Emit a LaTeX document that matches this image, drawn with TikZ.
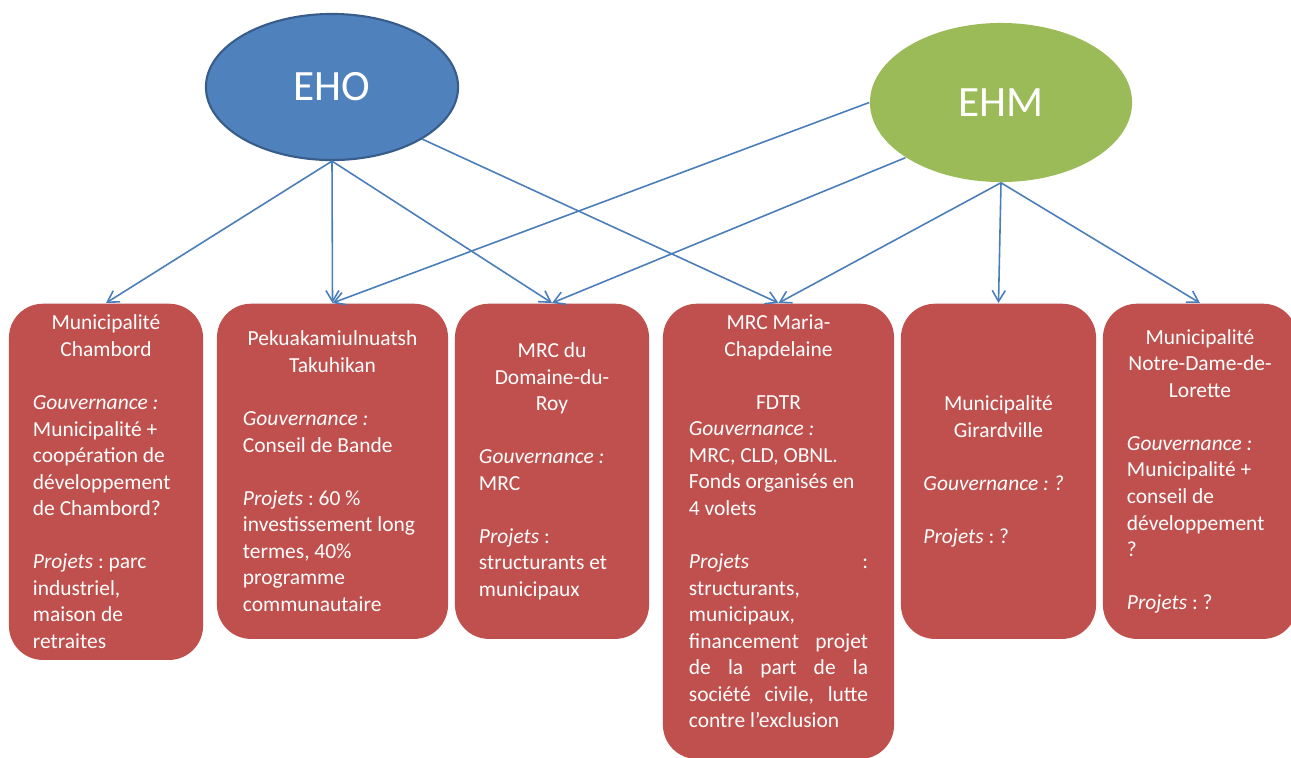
\documentclass[tikz,border=0pt]{standalone}
\usepackage{fontspec}
\setmainfont{Carlito}
\usepackage{tikz}
\usetikzlibrary{arrows.meta,shapes.geometric}
\usepackage{xcolor}
\definecolor{boxred}{HTML}{C0504D}
\definecolor{ehoblue}{HTML}{4F81BD}
\definecolor{ehoedge}{HTML}{385D8A}
\definecolor{ehmgreen}{HTML}{9BBB59}
\definecolor{arrowblue}{HTML}{4A7EBB}
\newcommand{\skipline}{\par\vspace{\baselineskip}}
\newcommand{\jline}[1]{\makebox[1.79cm][s]{#1}}

\begin{document}
\begin{tikzpicture}[x=0.01cm,y=-0.01cm,
  rel/.style={-{Straight Barb[length=1.1mm,width=1.3mm]},draw=arrowblue,line width=0.45pt},
  pole/.style={ellipse,inner sep=0pt,text=white,font=\fontsize{12.3}{14}\selectfont},
  orgbox/.style={fill=boxred,rounded corners=0.34cm,text=white,anchor=north,align=left,
    inner sep=0pt,font=\fontsize{6.1}{7.55}\selectfont,
    execute at begin node={\spaceskip=0pt\xspaceskip=0pt\frenchspacing}}]
\useasboundingbox (0,0) rectangle (1291,757);
\node[pole,fill=ehoblue,draw=ehoedge,line width=0.6pt,minimum width=2.52cm,minimum height=1.46cm] (eho) at (332,87) {EHO};
\node[pole,fill=ehmgreen,minimum width=2.62cm,minimum height=1.59cm] (ehm) at (1001,102.5) {EHM};
\node[orgbox,minimum width=1.94cm,minimum height=3.56cm,text width=1.46cm] (chambord) at (106,303) {%
{\centering Municipalité\\Chambord\par}\skipline
\textit{Gouvernance :}\\Municipalité +\\coopération de\\développement\\de Chambord?\skipline
\textit{Projets} : parc\\industriel,\\maison de\\retraites};
\node[orgbox,minimum width=2.31cm,minimum height=3.35cm,text width=1.79cm] (pekua) at (332.5,303) {%
{\centering Pekuakamiulnuatsh\\Takuhikan\par}\skipline
\textit{Gouvernance :}\\Conseil de Bande\skipline
\textit{Projets} : 60 \%\\investissement long\\termes, 40\%\\programme\\communautaire};
\node[orgbox,minimum width=1.94cm,minimum height=3.35cm,text width=1.46cm] (domaine) at (552,303) {%
{\centering MRC du\\Domaine-du-\\Roy\par}\skipline
\textit{Gouvernance :}\\MRC\skipline
\textit{Projets} :\\structurants et\\municipaux};
\node[orgbox,minimum width=2.31cm,minimum height=4.55cm,text width=1.79cm] (maria) at (778.5,303) {%
{\centering MRC Maria-\\Chapdelaine\par}\skipline
{\centering FDTR\par}
\textit{Gouvernance :}\\MRC, CLD, OBNL.\\Fonds organisés en\\4 volets\skipline
\jline{\textit{Projets} :}\\structurants,\\municipaux,\\\jline{financement projet}\\\jline{de la part de la}\\\jline{société civile, lutte}\\contre l’exclusion\par\vspace{0.2cm}};
\node[orgbox,minimum width=1.95cm,minimum height=3.35cm,text width=1.5cm] (girard) at (998.5,303) {%
{\centering Municipalité\\Girardville\par}\skipline
\textit{Gouvernance : ?}\skipline
\textit{Projets} : ?};
\node[orgbox,minimum width=1.94cm,minimum height=3.35cm,text width=1.46cm] (notre) at (1200,303) {%
{\centering Municipalité\\Notre-Dame-de-\\Lorette\par}\skipline
\textit{Gouvernance :}\\Municipalité +\\conseil de\\développement\\?\skipline
\textit{Projets} : ?};
\draw[rel] (eho.south) -- (chambord.north);
\draw[rel] (eho.south) -- (pekua.north);
\draw[rel] (eho.south) -- (domaine.north);
\draw[rel] (eho.-30) -- (maria.north);
\draw[rel] (ehm.west) -- (pekua.north);
\draw[rel] (ehm.210) -- (domaine.north);
\draw[rel] (ehm.south) -- (maria.north);
\draw[rel] (ehm.south) -- (girard.north);
\draw[rel] (ehm.south) -- (notre.north);
\end{tikzpicture}
\end{document}
